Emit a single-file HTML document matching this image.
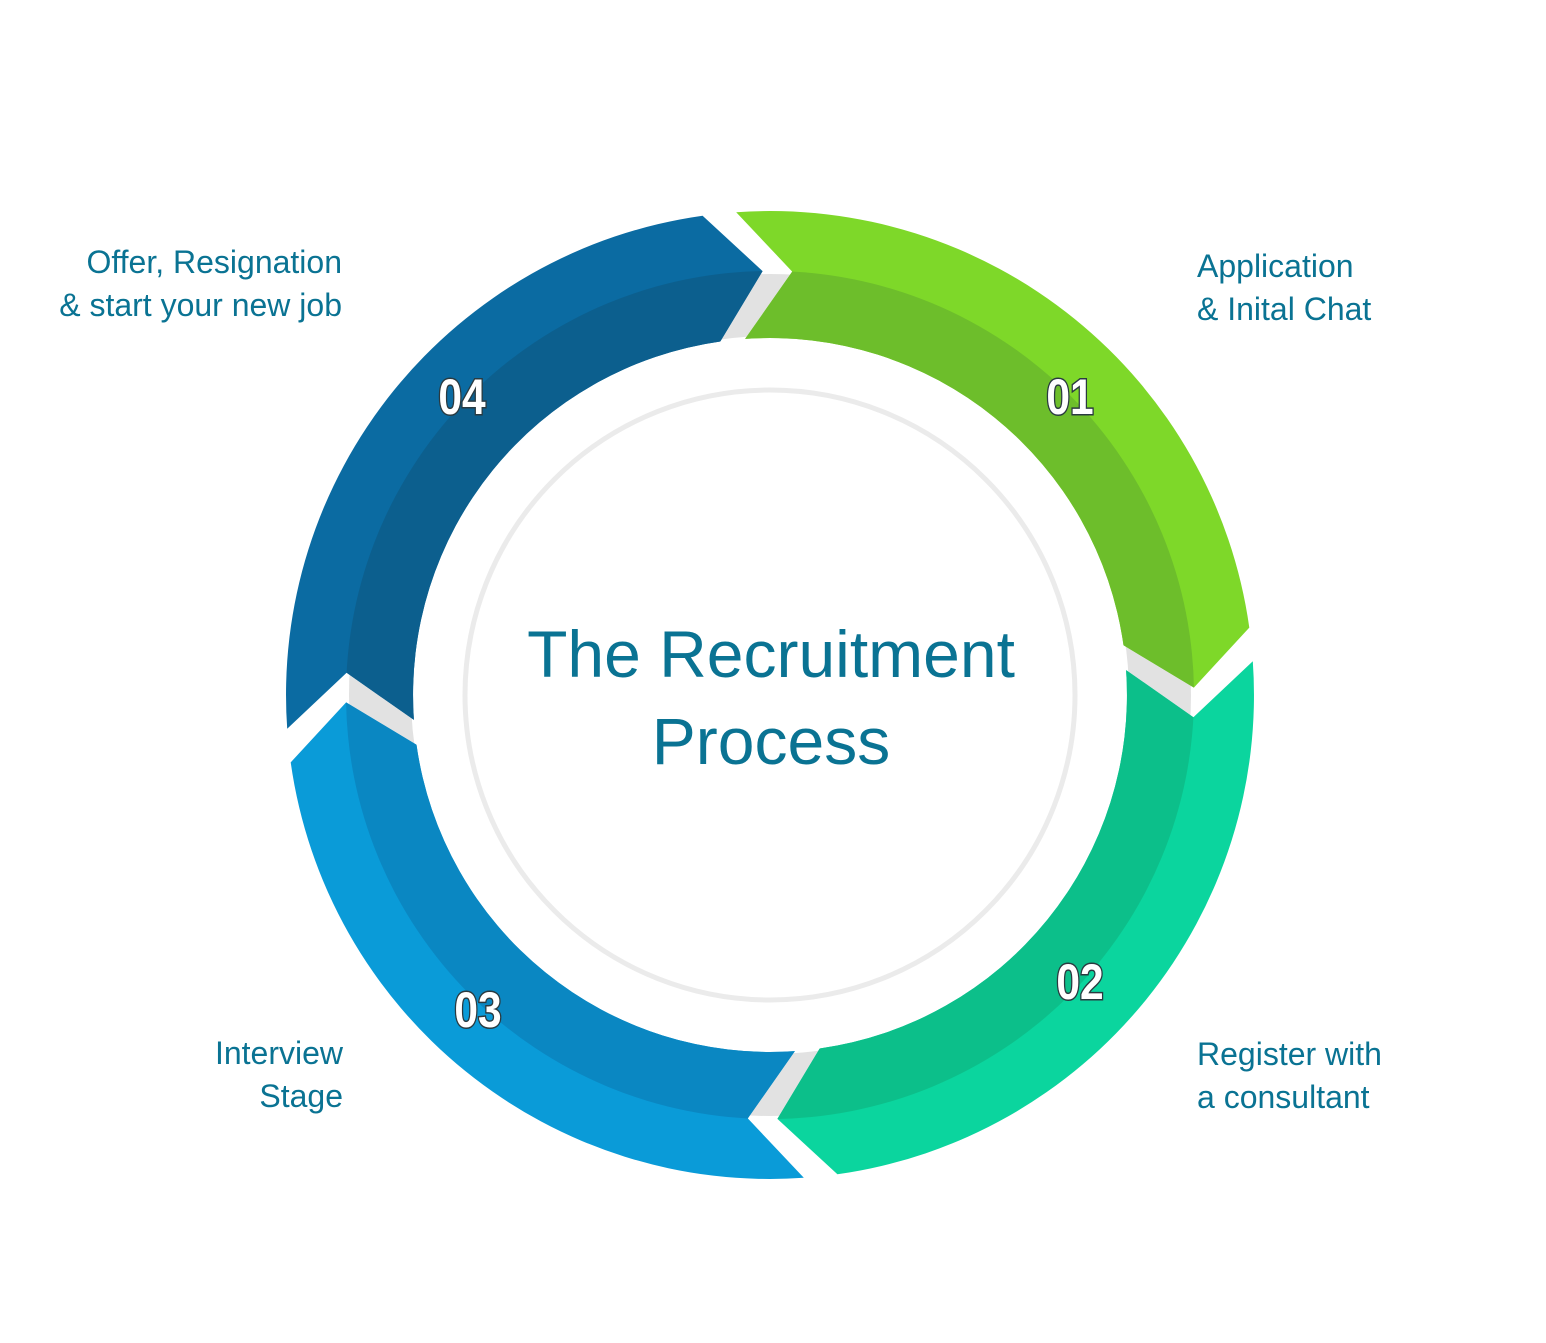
<!DOCTYPE html>
<html><head><meta charset="utf-8"><style>
html,body{margin:0;padding:0;background:#fff;}
body{width:1546px;height:1343px;position:relative;overflow:hidden;font-family:"Liberation Sans",sans-serif;}
.lbl{position:absolute;color:#0a7393;font-size:32px;line-height:43px;}
.num{font-family:"Liberation Sans Narrow","Liberation Sans",sans-serif;font-size:50px;font-weight:bold;fill:#fff;stroke:#2a3a40;stroke-width:3;paint-order:stroke;}
</style></head><body>
<svg id="s" width="1546" height="1343" style="position:absolute;left:0;top:0">
<circle cx="770" cy="695" r="390" fill="none" stroke="#e2e2e2" stroke-width="62"/>
<g id="segs"></g>
<circle cx="770" cy="695" r="305" fill="#fff" stroke="#ebebeb" stroke-width="5"/>
<g class="num" text-anchor="middle">
<text transform="translate(1070 414) scale(0.85 1)">01</text>
<text transform="translate(1080 999) scale(0.85 1)">02</text>
<text transform="translate(478 1027) scale(0.85 1)">03</text>
<text transform="translate(462 414) scale(0.85 1)">04</text>
</g>
<text x="771" y="677" text-anchor="middle" font-size="66" fill="#0a7393" font-family="Liberation Sans, sans-serif">The Recruitment</text>
<text x="771" y="764" text-anchor="middle" font-size="66" fill="#0a7393" font-family="Liberation Sans, sans-serif">Process</text>
</svg>
<div class="lbl" style="left:1197px;top:245px">Application<br>&amp; Inital Chat</div>
<div class="lbl" style="right:1204px;top:241px;text-align:right">Offer, Resignation<br>&amp; start your new job</div>
<div class="lbl" style="right:1203px;top:1032px;text-align:right">Interview<br>Stage</div>
<div class="lbl" style="left:1197px;top:1033px">Register with<br>a consultant</div>
<script>
var cx=770,cy=695,R=484,r=357,M=424;
function p(rad,a){a=a*Math.PI/180;return (cx+rad*Math.sin(a)).toFixed(1)+","+(cy-rad*Math.cos(a)).toFixed(1);}
var cols=[["#7ed829","#6dbe2b"],["#0bd59e","#0cbf8a"],["#0a9bd8","#0a87c2"],["#0b6ba2","#0c5f8e"]];
var g=document.getElementById("segs"),h="";
for(var i=0;i<4;i++){
 var s=-4+90*i,e=82+90*i;
 var d="M"+p(R,s)+" A"+R+","+R+" 0 0 1 "+p(R,e)+" L"+p(M,e+7)+" L"+p(r,e)+" A"+r+","+r+" 0 0 0 "+p(r,s)+" L"+p(M,s+7)+" Z";
 h+='<clipPath id="c'+i+'"><path d="'+d+'"/></clipPath>';
 h+='<path d="'+d+'" fill="'+cols[i][0]+'"/>';
 h+='<circle cx="770" cy="695" r="'+M+'" fill="'+cols[i][1]+'" clip-path="url(#c'+i+')"/>';
}
g.innerHTML=h;
</script>
</body></html>
